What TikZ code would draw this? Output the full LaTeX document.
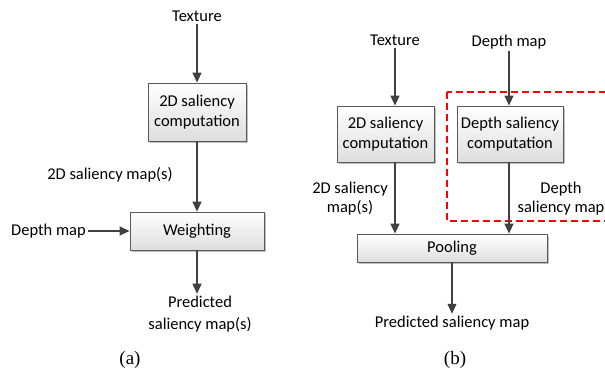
\documentclass[tikz,border=0pt]{standalone}
\usepackage{fontspec}
\setmainfont{Carlito}
\newfontfamily\capfont{Liberation Serif}
\usetikzlibrary{arrows.meta,shadows}

\tikzset{
  blockbox/.style={draw=black!65, line width=0.8pt, top color=white, bottom color=black!13,
    drop shadow={shadow xshift=1.5pt, shadow yshift=-1.5pt, fill=black!25, opacity=1},
    inner sep=0pt, align=center, font=\fontsize{16.5}{20}\selectfont},
  flow/.style={draw=black!75, line width=1.3pt, -{Triangle[length=10pt,width=9pt]}},
  lbl/.style={align=center, inner sep=2pt, font=\fontsize{16.5}{19}\selectfont},
  caplbl/.style={font=\capfont\fontsize{19}{22}\selectfont}
}

\begin{document}
\begin{tikzpicture}[x=1pt, y=-1pt]
  \useasboundingbox (0,0) rectangle (605,373);

  % (a)
  \node[lbl] (texa) at (197,16) {Texture};
  \node[blockbox, minimum width=98pt, minimum height=58pt] (sal2a) at (197,112) {2D saliency\\computation};
  \node[lbl] at (110,175) {2D saliency map(s)};
  \node[blockbox, minimum width=134pt, minimum height=38pt] (wgt) at (197,231) {Weighting};
  \node[lbl, anchor=east] (dmapa) at (88,231) {Depth map};
  \node[lbl] (preda) at (200,314) {Predicted\\[3pt]saliency map(s)};
  \node[caplbl] (capa) at (130,360) {(a)};

  \draw[flow] (texa) -- (sal2a);
  \draw[flow] (sal2a) -- (wgt);
  \draw[flow] (dmapa) -- (wgt);
  \draw[flow] (wgt) -- (wgt |- preda.north);

  % (b)
  \draw[red, dashed, line width=1.1pt, dash pattern=on 7pt off 4pt] (447,92) rectangle (612,221);
  \node[lbl] (texb) at (395,40) {Texture};
  \node[lbl] (dmapb) at (509,42) {Depth map};
  \node[blockbox, minimum width=97pt, minimum height=56pt] (sal2b) at (385.5,134) {2D saliency\\computation};
  \node[blockbox, minimum width=106pt, minimum height=56pt] (saldb) at (510,134) {Depth saliency\\computation};
  \node[blockbox, minimum width=190pt, minimum height=28pt] (pool) at (452,248) {Pooling};
  \node[lbl] at (350,199) {2D saliency\\map(s)};
  \node[lbl] at (561,199) {Depth\\saliency map};
  \node[lbl] (predb) at (452,323) {Predicted saliency map};
  \node[caplbl] (capb) at (455,360) {(b)};

  \draw[flow] (texb) -- (texb |- sal2b.north);
  \draw[flow] (texb |- sal2b.south) -- (texb |- pool.north);
  \draw[flow] (dmapb) -- (dmapb |- saldb.north);
  \draw[flow] (dmapb |- saldb.south) -- (dmapb |- pool.north);
  \draw[flow] (pool) -- (predb);
\end{tikzpicture}
\end{document}
